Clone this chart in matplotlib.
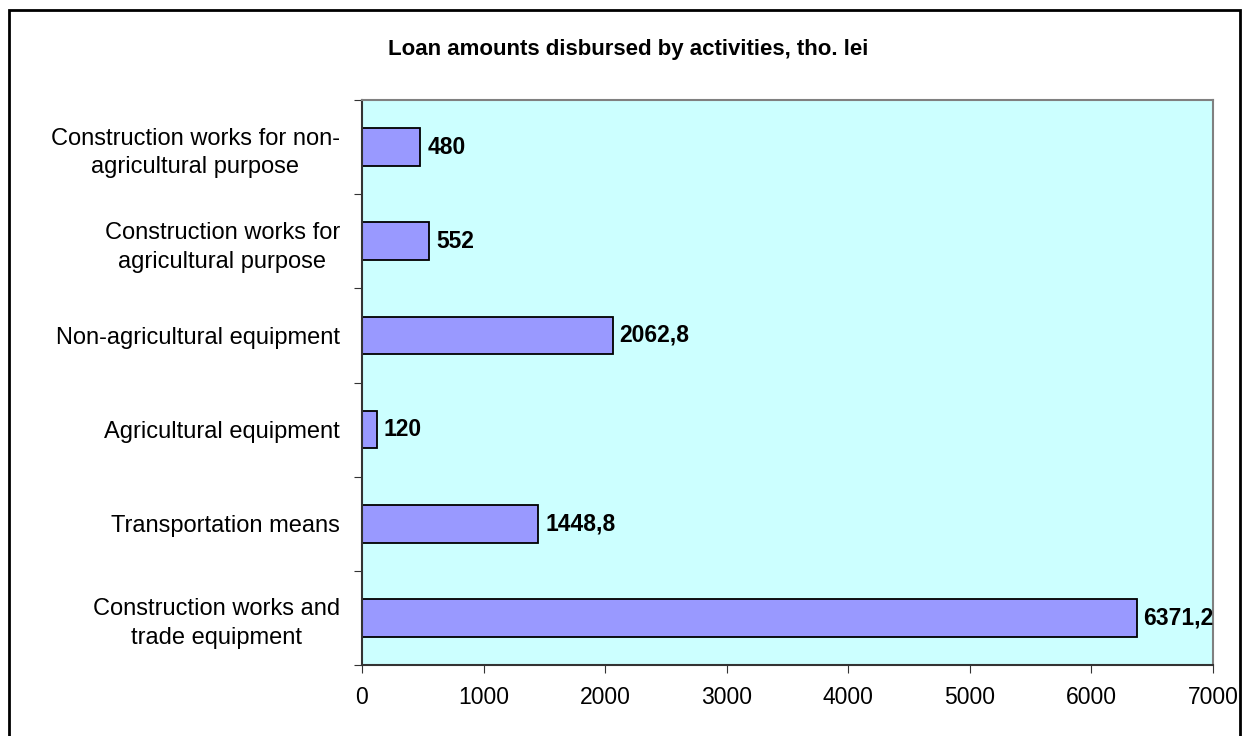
import matplotlib.pyplot as plt
from matplotlib.patches import Rectangle

plt.rcParams['font.family'] = ['Liberation Sans', 'DejaVu Sans']

categories = [
    'Construction works and\ntrade equipment',
    'Transportation means',
    'Agricultural equipment',
    'Non-agricultural equipment',
    'Construction works for\nagricultural purpose',
    'Construction works for non-\nagricultural purpose',
]
values = [6371.2, 1448.8, 120, 2062.8, 552, 480]
xticks = [0, 1000, 2000, 3000, 4000, 5000, 6000, 7000]


def fmt(v):
    s = ('%.1f' % v).rstrip('0').rstrip('.')
    return s.replace('.', ',')


fig = plt.figure(figsize=(12.42, 7.36), dpi=100)
ax = fig.add_axes([362 / 1242, 71 / 736, 851 / 1242, 565 / 736])
ax.set_facecolor('#CCFFFF')

pos = range(len(categories))
ax.barh(pos, values, height=0.4, color='#9999FF', edgecolor='black', linewidth=1.3)
for y, v in zip(pos, values):
    ax.annotate(fmt(v), (v, y), xytext=(5, 0), textcoords='offset points',
                va='center', ha='left', fontsize=16.5, fontweight='bold')

ax.set_xlim(0, 7000)
ax.set_ylim(-0.5, len(categories) - 0.5)
ax.set_xticks(xticks)
ax.set_xticklabels([str(t) for t in xticks], fontsize=16.5)
ax.set_yticks([i - 0.5 for i in range(len(categories) + 1)])
ax.set_yticklabels([])
ax.set_yticks(list(pos), minor=True)
ax.set_yticklabels(categories, minor=True, fontsize=17, ha='right',
                   multialignment='center', linespacing=1.4)
ax.tick_params(axis='y', which='minor', length=0, pad=16)
ax.tick_params(axis='y', which='major', length=6, color='#333333')
ax.tick_params(axis='x', length=6, pad=9, color='#333333')

for side in ['top', 'right']:
    ax.spines[side].set_color('#808080')
    ax.spines[side].set_linewidth(1.5)
ax.spines['left'].set_color('#333333')
ax.spines['bottom'].set_color('#333333')
ax.spines['left'].set_linewidth(1.5)
ax.spines['bottom'].set_linewidth(1.5)

fig.text(628 / 1242, 1 - 50 / 736, 'Loan amounts disbursed by activities, tho. lei',
         ha='center', va='center', fontsize=16, fontweight='bold')

fig.patches.append(Rectangle((9 / 1242, -0.05), 1231 / 1242, 1.05 - 10 / 736,
                             transform=fig.transFigure, fill=False,
                             edgecolor='black', linewidth=2))

fig.savefig('out.png', dpi=100)
